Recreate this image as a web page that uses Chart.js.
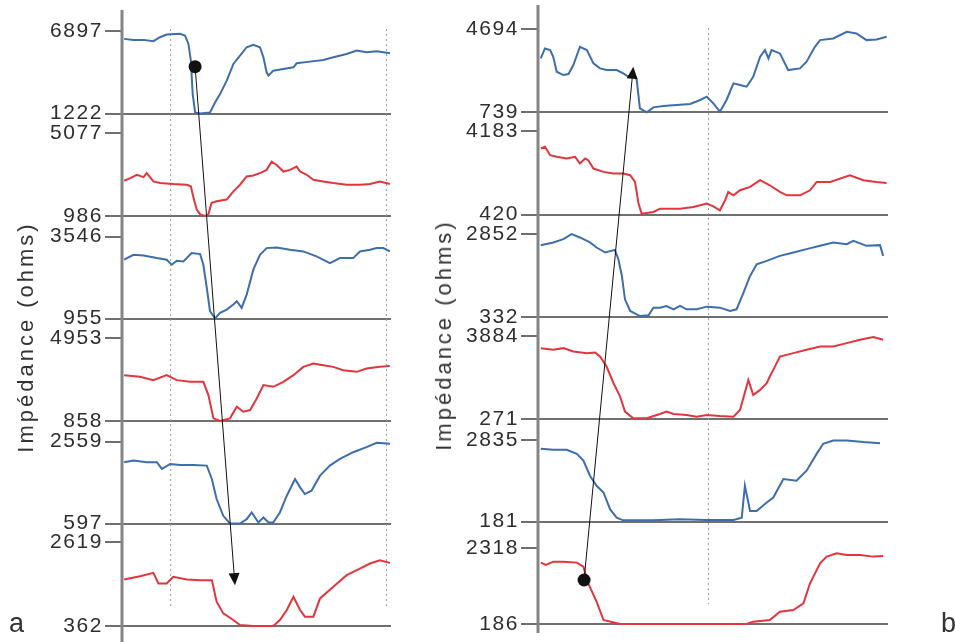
<!DOCTYPE html>
<html>
<head>
<meta charset="utf-8">
<script src="https://cdn.jsdelivr.net/npm/chart.js@4.4.1/dist/chart.umd.min.js"></script>
<style>
  body { margin: 0; background: #fff; width: 955px; height: 642px; overflow: hidden; position: relative;
         font-family: 'Liberation Sans', Arial, sans-serif; color: #333; }
  canvas { position: absolute; top: 0; }
  .ylab { position: absolute; font-size: 22px; letter-spacing: 3px; white-space: nowrap;
          transform: translate(-50%, -50%) rotate(-90deg); }
  .tag { position: absolute; font-size: 27px; line-height: 27px; }
</style>
</head>
<body>
<canvas id="ca" width="400" height="642" style="left:0"></canvas>
<canvas id="cb" width="500" height="642" style="left:455px"></canvas>
<div class="ylab" style="left:26px;top:337px">Impédance (ohms)</div>
<div class="ylab" style="left:444px;top:335px">Impédance (ohms)</div>
<div class="tag" style="left:9px;top:610px">a</div>
<div class="tag" style="left:941px;top:610px">b</div>
<script>
/* ── Data: [time %, ohms] ── */

const a1 = [[0,6387],[3.5,6317],[7.3,6317],[11,6225],[13.5,6502],[16,6688],[21,6734],[22.9,6618],[24.2,6039],[25.1,4881],[25.8,2565],[26.7,1291],[28.6,1222],[32.3,1291],[34.2,1986],[36.1,2565],[38.6,3492],[41.1,4650],[43.6,5229],[46.1,5808],[48.6,5970],[51.1,5808],[52.4,5113],[53.6,4071],[54.3,3839],[56.1,4186],[59.9,4302],[63.7,4418],[64.9,4696],[69.9,4812],[74.9,4928],[78.7,5113],[83.7,5344],[87.5,5576],[91.2,5460],[95,5530],[100,5391]];
const a2 = [[0,2723],[2.3,2853],[4.8,3015],[7.3,2901],[8.5,3096],[11,2690],[13.5,2609],[18.5,2560],[23.6,2528],[25.1,2447],[26.1,1879],[27.3,1311],[28.6,1067],[30.4,986],[31.7,1067],[32.9,1635],[34.8,1716],[38.6,1798],[41.1,2203],[43.6,2528],[46.1,2934],[48.6,2982],[51.1,3096],[53.6,3258],[55.5,3664],[57.4,3502],[59.9,3177],[62.4,3258],[64.9,3420],[66.2,3177],[68.7,3015],[71.2,2771],[74.9,2690],[78.7,2609],[83.7,2528],[88.7,2528],[92.5,2560],[96.2,2690],[100,2560]];
const a3 = [[0,2812],[3.5,2969],[7.3,2948],[12.3,2864],[16,2812],[17.9,2654],[19.8,2780],[22.3,2759],[25.4,3022],[28.6,2990],[29.8,2654],[31.1,1920],[32.3,1186],[34.2,955],[36.1,1133],[38.6,1238],[41.1,1396],[42.4,1500],[44.2,1291],[46.1,1710],[48.6,2497],[51.1,2969],[53.6,3179],[57.4,3200],[62.4,3126],[67.4,3074],[72.4,2916],[77.4,2707],[81.2,2864],[86.2,2864],[88.7,3074],[92.5,3126],[95,3179],[97.5,3179],[100,3074]];
const a4 = [[0,3118],[6,3037],[11,2873],[16,3118],[19.8,2873],[24.8,2791],[29.8,2791],[31.7,2136],[33.6,989],[36.1,858],[39.8,989],[42.4,1562],[44.9,1317],[47.4,1399],[49.9,1972],[52.4,2627],[56.1,2545],[59.9,2791],[63.7,3118],[67.4,3528],[71.2,3692],[74.9,3610],[78.7,3528],[82.4,3364],[87.5,3282],[91.2,3446],[96.2,3528],[100,3577]];
const a5 = [[0,2062],[3.5,2103],[8.5,2062],[12.3,2062],[14.2,1902],[17.3,2022],[21,1998],[26.1,1998],[31.1,1982],[33,1662],[34.8,1182],[37.3,781],[39.8,597],[43.6,597],[46.1,701],[48,861],[50.5,621],[52.4,741],[54.3,621],[56.1,621],[58.6,861],[61.2,1262],[64.3,1662],[66.2,1462],[68,1301],[70.5,1382],[73.7,1742],[77.4,1982],[81.2,2142],[86.2,2303],[91.2,2423],[95,2527],[100,2503]];
const a6 = [[0,1611],[6,1700],[11,1789],[12.9,1504],[16,1504],[18.5,1682],[23.6,1611],[28.6,1593],[33,1593],[34.8,1013],[37.3,701],[41.1,523],[43.6,389],[48.6,362],[56.1,362],[58.6,523],[61.2,790],[63.7,1147],[66.2,790],[68,612],[71.2,612],[73.7,1102],[78.7,1415],[83.7,1727],[88.7,1905],[92.5,2039],[96.2,2128],[100,2057]];

const b1 = [[0.2,3312],[1.4,3788],[2.9,3709],[3.8,3391],[4.8,2676],[6.7,2518],[8.2,2565],[9.6,2994],[11.5,3867],[13.5,3709],[15.4,3073],[17.3,2835],[19.2,2756],[22.1,2756],[24,2597],[25.5,2438],[26.9,2676],[27.9,2279],[28.8,930],[30.8,739],[32.7,977],[35.6,1041],[39.4,1088],[43.3,1136],[46.2,1327],[48.1,1485],[50,1168],[51.9,771],[53.8,1327],[55.8,2120],[57.7,2041],[59.6,1962],[61.5,2438],[63.5,3391],[64.9,3709],[65.9,3312],[66.8,3709],[69.2,3550],[71.6,2756],[75,2835],[76.9,3153],[79.3,3867],[80.8,4185],[84.6,4264],[88.5,4582],[91.3,4503],[94.2,4185],[97.1,4216],[100,4344]];
const b2 = [[0.2,3388],[1.4,3463],[2.9,3088],[4.8,3013],[7.7,2938],[10.1,3013],[11.5,2713],[13,2938],[13.9,2863],[15.4,2488],[18.3,2338],[21.2,2263],[24,2263],[26,2188],[27.4,1889],[28.4,915],[29.3,465],[32.7,540],[34.6,690],[40.4,690],[44.2,765],[48.1,915],[50,795],[51.9,615],[53.4,1065],[54.3,1439],[55.8,1289],[57.7,1514],[60.6,1664],[63.5,1964],[66.3,1739],[69.2,1439],[71.2,1289],[75,1289],[77.9,1514],[79.8,1889],[83.7,1889],[89.4,2188],[93.3,1964],[97.1,1889],[100,1844]];
const b3 = [[0.2,2516],[3.8,2598],[6.7,2699],[9.1,2852],[11.5,2750],[14.4,2598],[16.3,2445],[18.8,2293],[21.6,2374],[22.6,2090],[23.6,1582],[24.5,870],[26,515],[28.8,362],[31.3,383],[32.7,616],[34.6,616],[36.5,667],[38.5,566],[40.4,667],[42.3,566],[45.2,566],[48.1,647],[51.9,616],[54.8,515],[56.7,566],[58.7,1074],[60.6,1582],[62.5,1937],[65.4,2039],[69.2,2191],[73.1,2293],[76.9,2395],[80.8,2496],[84.6,2598],[88.5,2547],[90.4,2648],[94.2,2496],[98.1,2516],[99,2191]];
const b4 = [[0.2,3374],[3.8,3302],[6.7,3374],[9.6,3229],[13.5,3156],[15.9,3185],[17.3,3010],[19.2,2573],[21.2,1845],[23.1,1262],[24.5,606],[26.9,315],[30.8,315],[34.6,504],[36.5,606],[38.5,504],[42.3,460],[45.2,388],[48.1,460],[51.9,417],[55.8,388],[57.7,679],[60.1,1990],[61.5,1335],[63.5,1553],[65.4,1845],[66.3,2136],[67.3,2427],[69.2,3010],[73.1,3156],[76.9,3302],[80.8,3447],[84.6,3447],[88.5,3593],[92.3,3739],[96.2,3855],[99,3739]];
const b5 = [[0.2,2542],[3.8,2509],[7.7,2509],[10.6,2379],[12.5,2161],[14.4,1672],[16.3,1345],[18.3,1128],[20.2,584],[22.1,312],[24,225],[32.7,225],[40.4,257],[48.1,235],[55.8,235],[58.2,312],[59.1,1345],[60.6,529],[62.5,529],[65.4,801],[67.3,964],[70.2,1563],[74,1508],[76.9,1835],[79.8,2379],[81.7,2705],[84.6,2814],[88.5,2814],[93.3,2760],[98.1,2727]];
const b6 = [[0.2,1914],[1.7,1848],[3.8,1942],[6.7,1942],[10.6,1914],[12.5,1801],[13.2,1560],[13.9,1332],[16.3,815],[18.3,299],[23.1,186],[32.7,186],[42.3,186],[51.9,186],[59.6,186],[61.5,252],[66.3,299],[69.2,533],[73.1,580],[76,768],[77.9,1332],[80.8,1895],[82.7,2083],[85.6,2177],[88.5,2130],[92.3,2130],[96.2,2083],[99,2102]];

// tick labels per trace: [min, max]
const aTicks = [[1222,6897],[986,5077],[955,3546],[858,4953],[597,2559],[362,2619]];
const bTicks = [[739,4694],[420,4183],[332,2852],[271,3884],[181,2835],[186,2318]];

// dotted time markers (%)
const aMarks = [17.5, 98.7];
const bMarks = [48.6];

// arrows: start dot -> arrow tip, [trace index, time %, ohms]
const aArrow = [[0, 26.7, 4464], [5, 41.7, 1459]];
const bArrow = [[5, 12.7, 1425], [0, 26.9, 2915]];

/* ── Styling ── */
const BLUE = '#3d6ea9';
const RED = '#e2353d';
const FONT = { family: "'Liberation Sans', Arial, sans-serif", size: 21 };

function yAxes(ticks, frac, width) {
  const s = {};
  ticks.forEach(([lo, hi], i) => {
    s['y' + i] = {
      type: 'linear',
      position: 'left',
      stack: 'traces',
      weight: 20 - i,
      min: lo,
      max: lo + (hi - lo) / frac[i],
      afterBuildTicks: sc => { sc.ticks = [{ value: lo }, { value: hi }]; },
      afterFit: sc => { sc.width = width; sc.paddingTop = 0; sc.paddingBottom = 0; },
      border: { display: false },
      grid: {
        color: c => (c.tick && c.tick.value === lo) ? '#707070' : 'rgba(0,0,0,0)',
        lineWidth: 2,
        tickColor: '#707070',
        tickWidth: 2,
        tickLength: 17
      },
      ticks: { color: '#2e2e2e', font: FONT, padding: 2, autoSkip: false, callback: v => String(v) }
    };
  });
  return s;
}

const decor = {
  id: 'decor',
  beforeDraw(chart) { chart.ctx.letterSpacing = '1.6px'; },
  beforeDatasetsDraw(chart, args, o) {
    const { ctx, chartArea: ca, scales } = chart;
    ctx.save();
    ctx.strokeStyle = '#9a9a9a';
    ctx.lineWidth = 1;
    ctx.setLineDash([2, 3]);
    o.marks.forEach(t => {
      const x = scales.x.getPixelForValue(t);
      ctx.beginPath();
      ctx.moveTo(x, ca.top + 18);
      ctx.lineTo(x, ca.bottom - 20);
      ctx.stroke();
    });
    ctx.setLineDash([]);
    ctx.strokeStyle = '#858585';
    ctx.lineWidth = 3;
    ctx.beginPath();
    ctx.moveTo(ca.left, o.axisTop);
    ctx.lineTo(ca.left, o.axisBottom);
    ctx.stroke();
    ctx.restore();
  },
  afterDatasetsDraw(chart, args, o) {
    const { ctx, scales } = chart;
    const pt = ([i, t, v]) => [scales.x.getPixelForValue(t), scales['y' + i].getPixelForValue(v)];
    const [x0, y0] = pt(o.arrow[0]);
    const [x1, y1] = pt(o.arrow[1]);
    const ang = Math.atan2(y1 - y0, x1 - x0);
    const len = 12, hw = 5.5;
    const bx = x1 - len * Math.cos(ang), by = y1 - len * Math.sin(ang);
    ctx.save();
    ctx.strokeStyle = '#111';
    ctx.fillStyle = '#111';
    ctx.lineWidth = 1;
    ctx.beginPath();
    ctx.moveTo(x0, y0);
    ctx.lineTo(bx, by);
    ctx.stroke();
    ctx.beginPath();
    ctx.moveTo(x1, y1);
    ctx.lineTo(bx + hw * Math.sin(ang), by - hw * Math.cos(ang));
    ctx.lineTo(bx - hw * Math.sin(ang), by + hw * Math.cos(ang));
    ctx.closePath();
    ctx.fill();
    ctx.beginPath();
    ctx.arc(x0, y0, 6.5, 0, Math.PI * 2);
    ctx.fill();
    ctx.restore();
  }
};

function makePanel(id, series, ticks, frac, opts) {
  return new Chart(document.getElementById(id), {
    type: 'line',
    data: {
      datasets: series.map((d, i) => ({
        data: d.map(([x, y]) => ({ x, y })),
        yAxisID: 'y' + i,
        borderColor: i % 2 ? RED : BLUE,
        borderWidth: 2,
        pointRadius: 0,
        tension: 0,
        fill: false,
        clip: false
      }))
    },
    options: {
      responsive: false,
      animation: false,
      layout: { padding: opts.padding },
      plugins: {
        legend: { display: false },
        tooltip: { enabled: false },
        decor: { marks: opts.marks, arrow: opts.arrow, axisTop: opts.axisTop, axisBottom: opts.axisBottom }
      },
      scales: {
        x: { type: 'linear', display: false, min: opts.xMin, max: opts.xMax },
        ...yAxes(ticks, frac, opts.yWidth)
      }
    },
    plugins: [decor]
  });
}

makePanel('ca', [a1, a2, a3, a4, a5, a6], aTicks, [0.80, 0.81, 0.80, 0.81, 0.80, 0.82], {
  padding: { top: 11, bottom: 16, left: 0, right: 9 },
  yWidth: 122, xMin: -0.8, xMax: 100.4,
  marks: aMarks, arrow: aArrow, axisTop: 10, axisBottom: 642
});

makePanel('cb', [b1, b2, b3, b4, b5, b6], bTicks, [0.81, 0.82, 0.81, 0.81, 0.80, 0.74], {
  padding: { top: 10, bottom: 18, left: 0, right: 67 },
  yWidth: 83, xMin: -0.6, xMax: 100.4,
  marks: bMarks, arrow: bArrow, axisTop: 5, axisBottom: 633
});
</script>
</body>
</html>
